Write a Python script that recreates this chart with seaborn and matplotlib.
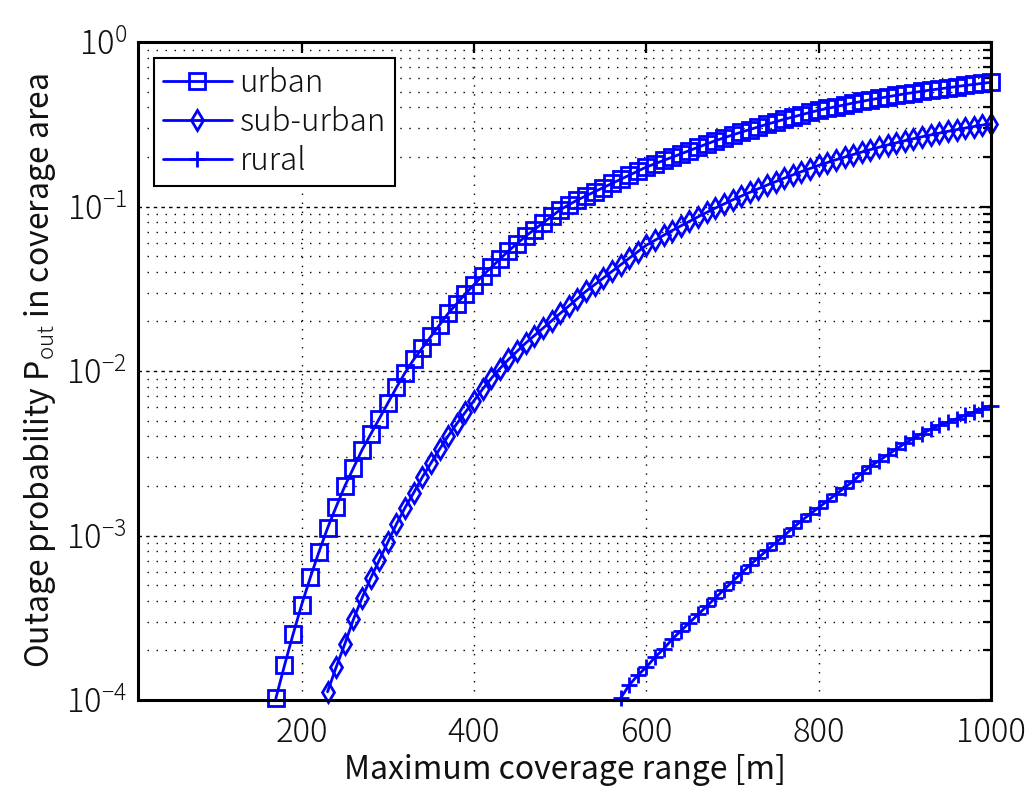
import numpy as np
import pandas as pd
import matplotlib
matplotlib.use("Agg")
import matplotlib.pyplot as plt
import seaborn as sns
from matplotlib.ticker import LogLocator, NullFormatter, FixedLocator

# ---------------- data (log10 of P_out) ----------------
urban_range = list(range(170, 1001, 10))
urban_log10 = [
    -3.99, -3.79, -3.60, -3.42, -3.255, -3.10, -2.955, -2.825, -2.70, -2.59,
    -2.48, -2.385, -2.29, -2.195, -2.10, -2.01, -1.93, -1.86, -1.79, -1.72,
    -1.65, -1.59, -1.53, -1.475, -1.42, -1.37, -1.32, -1.27, -1.225, -1.18,
    -1.14, -1.10, -1.06, -1.02,
    -0.99, -0.96, -0.935, -0.91, -0.885, -0.86, -0.835, -0.81, -0.785, -0.76,
    -0.74, -0.72, -0.70, -0.68, -0.66, -0.64, -0.62, -0.60, -0.583, -0.565,
    -0.548, -0.532, -0.516, -0.50, -0.485, -0.47, -0.456, -0.442, -0.428, -0.415,
    -0.404, -0.393, -0.382, -0.371, -0.361, -0.351, -0.342, -0.333, -0.324, -0.315,
    -0.307, -0.299, -0.292, -0.285, -0.278, -0.271, -0.264, -0.258, -0.251, -0.245,
]

suburban_range = list(range(230, 1001, 10))
suburban_log10 = [
    -3.95, -3.80, -3.66, -3.51, -3.38, -3.26, -3.15, -3.04, -2.93, -2.83,
    -2.74, -2.645, -2.56, -2.475, -2.395, -2.32, -2.25, -2.18, -2.11, -2.045,
    -1.985, -1.93, -1.88, -1.83, -1.785, -1.74, -1.695, -1.65, -1.605, -1.56,
    -1.515, -1.475, -1.435, -1.395, -1.355, -1.315, -1.275, -1.235,
    -1.205, -1.175, -1.146, -1.118, -1.09, -1.063, -1.036, -1.01, -0.985, -0.96,
    -0.937, -0.914, -0.892, -0.87, -0.849, -0.828, -0.808, -0.788, -0.769, -0.75,
    -0.733, -0.716, -0.70, -0.684, -0.669, -0.654, -0.64, -0.626, -0.613, -0.60,
    -0.588, -0.576, -0.565, -0.554, -0.543, -0.533, -0.523, -0.514, -0.505, -0.496,
]

rural_range = list(range(570, 1001, 10))
rural_log10 = [
    -3.99, -3.91, -3.85, -3.80, -3.74, -3.69, -3.63, -3.58, -3.53, -3.48,
    -3.43, -3.38, -3.33, -3.28, -3.23, -3.18, -3.135, -3.09, -3.045, -3.00,
    -2.955, -2.91, -2.87, -2.83, -2.79, -2.75, -2.71, -2.67,
    -2.62, -2.58, -2.545, -2.51, -2.475, -2.44, -2.41, -2.38, -2.355, -2.33,
    -2.31, -2.29, -2.27, -2.25, -2.23, -2.21,
]

series_names = ["urban", "sub-urban", "rural"]
x_ticks = [200, 400, 600, 800, 1000]

frames = []
for name, xs, ls in [("urban", urban_range, urban_log10),
                     ("sub-urban", suburban_range, suburban_log10),
                     ("rural", rural_range, rural_log10)]:
    frames.append(pd.DataFrame({"range": xs, "pout": np.power(10.0, ls), "area": name}))
df = pd.concat(frames, ignore_index=True)

# ---------------- style ----------------
sns.set_style("white")
plt.rcParams["font.family"] = ["Noto Sans CJK JP", "DejaVu Sans"]
plt.rcParams["font.weight"] = "light"
plt.rcParams["mathtext.fontset"] = "custom"
plt.rcParams["mathtext.rm"] = "Noto Sans CJK JP:light"
plt.rcParams["mathtext.it"] = "Noto Sans CJK JP:light"
plt.rcParams["axes.unicode_minus"] = False

fig = plt.figure(figsize=(10.28, 7.88), dpi=100)
ax = fig.add_axes([138 / 1028, 1 - 700 / 788, (991 - 138) / 1028, (700 - 42) / 788])

blue = (0, 0, 1)
marker_styles = {
    "urban": dict(marker="s", markersize=11),
    "sub-urban": dict(marker="d", markersize=10),
    "rural": dict(marker="+", markersize=12),
}
for name in series_names:
    sub = df[df["area"] == name]
    sns.lineplot(data=sub, x="range", y="pout", ax=ax, color=blue, linewidth=2.0,
                 markerfacecolor="none", markeredgecolor=blue, markeredgewidth=2.0,
                 label=name, sort=False, errorbar=None, clip_on=False,
                 **marker_styles[name])

ax.set_yscale("log")
ax.set_xlim(10, 1000)
ax.set_ylim(1e-4, 1e0)
ax.xaxis.set_major_locator(FixedLocator(x_ticks))
ax.yaxis.set_major_locator(LogLocator(base=10, numticks=10))
ax.yaxis.set_minor_locator(LogLocator(base=10, subs=np.arange(2, 10), numticks=20))
ax.yaxis.set_minor_formatter(NullFormatter())

ax.grid(True, which="major", axis="x", color="k", linestyle=(0, (1, 5.5)), linewidth=1.0)
ax.grid(True, which="major", axis="y", color="k", linestyle=(0, (2.5, 3)), linewidth=1.0)
ax.grid(True, which="minor", axis="y", color="k", linestyle=(0, (1, 5.5)), linewidth=1.0)
ax.set_axisbelow(True)

for sp in ax.spines.values():
    sp.set_visible(True)
    sp.set_color("k")
    sp.set_linewidth(2.2)

ax.tick_params(which="both", direction="in", top=True, right=True, color="k",
               width=1.6, labelsize=23.5, labelcolor="#111111")
ax.tick_params(which="major", length=8)
ax.tick_params(axis="x", which="major", pad=11)
ax.tick_params(axis="y", which="major", pad=8)
ax.tick_params(which="minor", length=6)

ax.set_xlabel("Maximum coverage range [m]", fontsize=23, color="#111111", labelpad=3)
ax.set_ylabel(r"Outage probability P$_{\mathrm{out}}$ in coverage area",
              fontsize=23, color="#111111", labelpad=6)

leg = ax.legend(loc="upper left", fontsize=22.5, frameon=True, fancybox=False,
                framealpha=1, edgecolor="k", handlelength=2.2, handletextpad=0.25,
                labelspacing=0.22, borderpad=0.3, borderaxespad=0.5)
leg.get_frame().set_linewidth(1.5)
for t in leg.get_texts():
    t.set_color("#111111")

fig.savefig("out.png", dpi=100)
